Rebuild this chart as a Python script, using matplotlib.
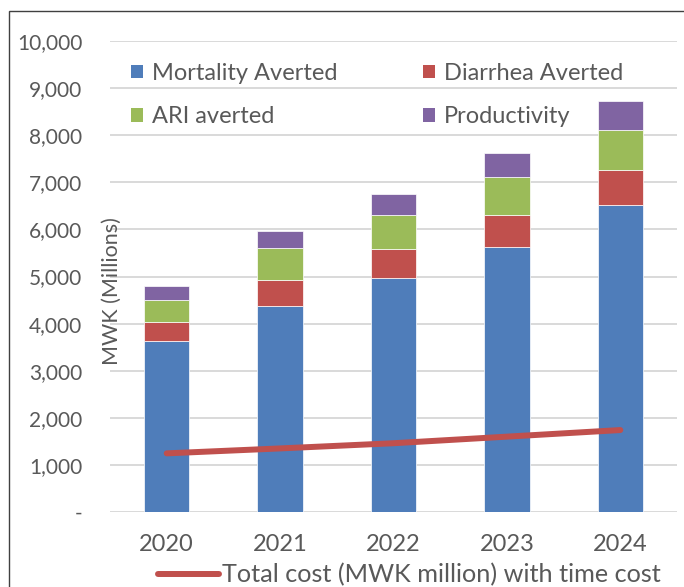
import matplotlib
matplotlib.use("Agg")
import matplotlib.pyplot as plt
from matplotlib.patches import Patch, Rectangle
from matplotlib.lines import Line2D
from matplotlib.ticker import FuncFormatter
import numpy as np

plt.rcParams['font.family'] = ['Lato', 'DejaVu Sans']

years = ["2020", "2021", "2022", "2023", "2024"]
mortality = [3630, 4380, 4970, 5620, 6510]
diarrhea = [400, 540, 610, 680, 750]
ari = [465, 680, 720, 820, 850]
productivity = [305, 375, 450, 500, 615]
total_cost = [1245, 1350, 1460, 1600, 1740]

series_names = ["Mortality Averted", "Diarrhea Averted", "ARI averted", "Productivity"]
colors = ["#4F7DBA", "#C0504D", "#9BBB59", "#8064A2"]
line_color = "#C0504D"
text_color = "#595959"

W, H = 684, 587
fig = plt.figure(figsize=(W / 100, H / 100), dpi=100)
ax = fig.add_axes([110 / W, (H - 512) / H, (677 - 110) / W, (512 - 41) / H])

x = np.arange(len(years))
bottom = np.zeros(len(years))
handles = {}
for name, vals, c in zip(series_names, [mortality, diarrhea, ari, productivity], colors):
    ax.bar(x, vals, width=0.40, bottom=bottom, color=c, edgecolor="white",
           linewidth=0.5, zorder=3, label=name)
    bottom += np.array(vals)
    handles[name] = Patch(facecolor=c, edgecolor="none", label=name)

ax.plot(x, total_cost, color=line_color, linewidth=4.3, solid_capstyle="round", zorder=4)

ax.set_xlim(-0.5, len(years) - 0.5)
ax.set_ylim(0, 10000)
ax.set_yticks(np.arange(0, 10001, 1000))
ax.yaxis.set_major_formatter(FuncFormatter(lambda v, p: "-" if v == 0 else f"{int(v):,}"))
ax.set_xticks(x)
ax.set_xticklabels(years)
ax.grid(axis="y", color="#D9D9D9", linewidth=1.4, zorder=0)
ax.set_axisbelow(True)
for s in ax.spines.values():
    s.set_visible(False)
ax.tick_params(axis="y", length=0, pad=20, labelsize=15, labelcolor=text_color)
ax.tick_params(axis="x", length=0, pad=16, labelsize=17, labelcolor=text_color)

ax.set_ylabel("MWK (Millions)", fontsize=15.5, color=text_color, va="center")
ax.yaxis.set_label_coords(2 / 567, 0.469)

# column-major fill so that rows read: Mortality | Diarrhea, ARI | Productivity
order = ["Mortality Averted", "ARI averted", "Diarrhea Averted", "Productivity"]
fig.legend(handles=[handles[n] for n in order], loc="upper left",
           bbox_to_anchor=(131 / W, (H - 63) / H),
           ncol=2, frameon=False, fontsize=17, labelcolor=text_color,
           handlelength=0.5, handleheight=0.5, handletextpad=0.4,
           labelspacing=0.94, columnspacing=3.6, borderpad=0, borderaxespad=0)

line_handle = Line2D([0], [0], color=line_color, linewidth=4.3, solid_capstyle="round")
fig.legend(handles=[line_handle], labels=["Total cost (MWK million) with time cost"],
           loc="center left", bbox_to_anchor=(158 / W, (H - 575) / H), frameon=False,
           fontsize=18.2, labelcolor=text_color, handlelength=2.4, handletextpad=0.15,
           borderpad=0, borderaxespad=0)

fig.add_artist(Rectangle((8.5 / W, -0.2), 2, 0.2 + (H - 10.5) / H, transform=fig.transFigure,
                         fill=False, edgecolor="#404040", linewidth=1.0))

fig.savefig("out.png", dpi=100)
